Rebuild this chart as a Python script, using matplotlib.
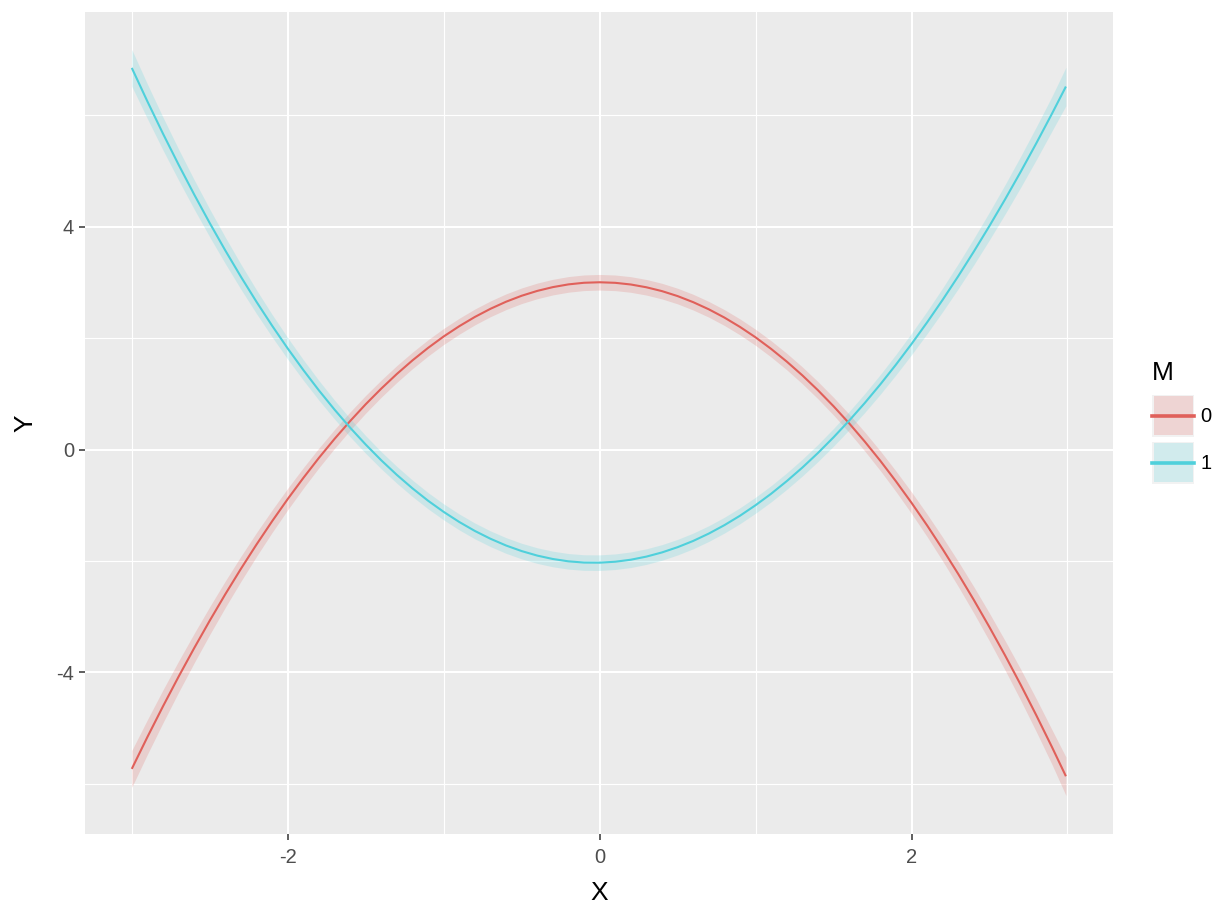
import matplotlib
matplotlib.use("Agg")
import matplotlib.pyplot as plt
from matplotlib.patches import Rectangle
from matplotlib.lines import Line2D
import numpy as np

# ---- data ----
x_vals = [-3.0, -2.9, -2.8, -2.7, -2.6, -2.5, -2.4, -2.3, -2.2, -2.1,
          -2.0, -1.9, -1.8, -1.7, -1.6, -1.5, -1.4, -1.3, -1.2, -1.1,
          -1.0, -0.9, -0.8, -0.7, -0.6, -0.5, -0.4, -0.3, -0.2, -0.1,
          0.0,
          0.1, 0.2, 0.3, 0.4, 0.5, 0.6, 0.7, 0.8, 0.9, 1.0,
          1.1, 1.2, 1.3, 1.4, 1.5, 1.6, 1.7, 1.8, 1.9, 2.0,
          2.1, 2.2, 2.3, 2.4, 2.5, 2.6, 2.7, 2.8, 2.9, 2.99]

y_m0 = [-5.729, -5.158, -4.607, -4.075, -3.563, -3.069, -2.594, -2.139, -1.703, -1.286,
        -0.888, -0.510, -0.150, 0.190, 0.510, 0.812, 1.093, 1.356, 1.599, 1.823,
        2.028, 2.212, 2.378, 2.524, 2.651, 2.758, 2.845, 2.913, 2.962, 2.991,
        3.000,
        2.990, 2.960, 2.910, 2.841, 2.752, 2.643, 2.515, 2.367, 2.199, 2.012,
        1.804, 1.577, 1.330, 1.063, 0.776, 0.470, 0.143, -0.203, -0.570, -0.956,
        -1.362, -1.789, -2.235, -2.701, -3.188, -3.694, -4.220, -4.767, -5.334, -5.861]

y_m1 = [6.845, 6.245, 5.666, 5.110, 4.575, 4.061, 3.569, 3.098, 2.648, 2.220,
        1.812, 1.426, 1.060, 0.716, 0.392, 0.089, -0.194, -0.456, -0.697, -0.919,
        -1.119, -1.300, -1.461, -1.601, -1.722, -1.822, -1.903, -1.964, -2.006, -2.028,
        -2.030,
        -2.013, -1.977, -1.921, -1.846, -1.752, -1.640, -1.508, -1.357, -1.188, -0.999,
        -0.793, -0.567, -0.324, -0.062, 0.219, 0.518, 0.834, 1.169, 1.522, 1.893,
        2.281, 2.687, 3.111, 3.553, 4.012, 4.488, 4.982, 5.493, 6.021, 6.511]

# half-width of the confidence ribbon
hw_band = [0.330, 0.311, 0.295, 0.279, 0.264, 0.250, 0.237, 0.225, 0.213, 0.202,
           0.193, 0.184, 0.177, 0.170, 0.164, 0.159, 0.154, 0.151, 0.148, 0.146,
           0.144, 0.143, 0.142, 0.141, 0.141, 0.140, 0.140, 0.140, 0.140, 0.140,
           0.140,
           0.140, 0.140, 0.140, 0.140, 0.140, 0.141, 0.141, 0.142, 0.143, 0.144,
           0.146, 0.148, 0.151, 0.154, 0.159, 0.164, 0.170, 0.177, 0.184, 0.193,
           0.202, 0.213, 0.225, 0.237, 0.250, 0.264, 0.279, 0.295, 0.311, 0.345]

levels = ["0", "1"]
colors = ["#E0605A", "#4FD0DB"]

x_major = [-2, 0, 2]
x_minor = [-3, -1, 1, 3]
y_major = [-4, 0, 4]
y_minor = [-6, -2, 2, 6]

W, H = 1228, 921
FONT = "Liberation Sans"

fig = plt.figure(figsize=(W / 100, H / 100), dpi=100)
fig.patch.set_facecolor("white")
ax = fig.add_axes([85 / W, 1 - 834 / H, (1112.7 - 85) / W, (834 - 12) / H])
ax.set_facecolor("#EBEBEB")
for s in ax.spines.values():
    s.set_visible(False)

ax.set_xlim(-3.30, 3.29)
ax.set_ylim(-6.897, 7.848)

# gridlines
for v in x_minor:
    ax.axvline(v, color="white", lw=0.8, zorder=0.5)
for v in y_minor:
    ax.axhline(v, color="white", lw=0.8, zorder=0.5)
for v in x_major:
    ax.axvline(v, color="white", lw=1.5, zorder=0.6)
for v in y_major:
    ax.axhline(v, color="white", lw=1.5, zorder=0.6)

xs = np.array(x_vals)
hw = np.array(hw_band)
for ys, c in [(y_m0, colors[0]), (y_m1, colors[1])]:
    ys = np.array(ys)
    ax.fill_between(xs, ys - hw, ys + hw, color=c, alpha=0.2, lw=0, zorder=2)
    ax.plot(xs, ys, color=c, lw=1.5, zorder=3, solid_capstyle="butt",
            solid_joinstyle="round")

ax.set_xticks(x_major)
ax.set_yticks(y_major)
ax.set_xticklabels([str(v) for v in x_major])
ax.set_yticklabels([str(v) for v in y_major])
ax.tick_params(axis="both", length=4, width=1.1, color="#333333",
               labelcolor="#4D4D4D", labelsize=14.5, pad=4)
ax.tick_params(axis="x", pad=6)
for lab in ax.get_xticklabels() + ax.get_yticklabels():
    lab.set_fontfamily(FONT)

ax.set_xlabel("X", fontsize=19, fontfamily=FONT, color="black", labelpad=10)
ax.set_ylabel("Y", fontsize=19, fontfamily=FONT, color="black", labelpad=13)

# legend (manual, ggplot style)
def fx(p):
    return p / W

def fy(p):
    return 1 - p / H

fig.text(fx(1152), fy(373), "M", fontsize=19, fontfamily=FONT, ha="left", va="center")
keys = [(395, 437), (442, 484)]
for (t, b), c, lab in zip(keys, colors, levels):
    fig.add_artist(Rectangle((fx(1152), fy(b)), (1194 - 1152) / W, (b - t) / H,
                             transform=fig.transFigure, facecolor="#F2F2F2",
                             edgecolor="none"))
    fig.add_artist(Rectangle((fx(1153.5), fy(b - 1.5)), (1194 - 1155) / W, (b - t - 3) / H,
                             transform=fig.transFigure, facecolor=c, alpha=0.2,
                             edgecolor="none"))
    yc = (t + b) / 2
    fig.add_artist(Line2D([fx(1152), fx(1194)], [fy(yc), fy(yc)],
                          transform=fig.transFigure, color=c, lw=2.6))
    fig.text(fx(1200), fy(yc), lab, fontsize=14.5, fontfamily=FONT,
             ha="left", va="center", color="black")

fig.savefig("out.png", dpi=100)
